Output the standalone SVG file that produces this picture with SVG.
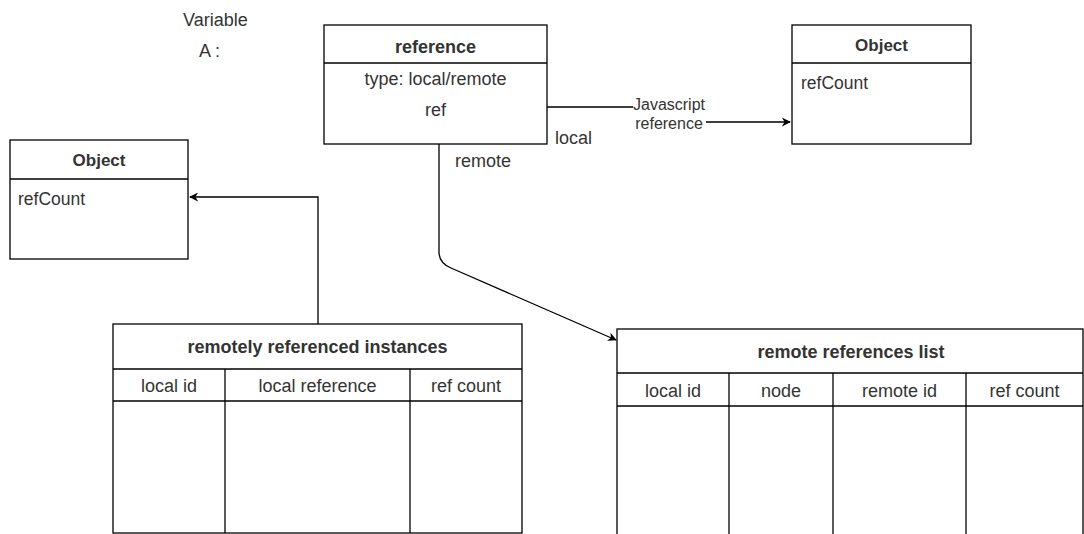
<svg xmlns="http://www.w3.org/2000/svg" width="1084" height="534" viewBox="0 0 1084 534">
<defs>
<style>
.box{fill:#fff;stroke:#000;stroke-width:1.3}
.ln{fill:none;stroke:#000;stroke-width:1.3}
.t{font-family:"Liberation Sans",Arial,sans-serif;font-size:18px;fill:#333}
.b{font-weight:bold}
.c{text-anchor:middle}
.o{font-size:17px}
.rc{font-size:17.5px}
.lbl{font-size:16px}
.e{fill:none;stroke:#000;stroke-width:1.3}
</style>
<marker id="ah" viewBox="0 0 10 10" refX="9" refY="5" markerWidth="9" markerHeight="9" markerUnits="userSpaceOnUse" orient="auto">
<path d="M0,0 L10,5 L0,10 L3,5 Z" fill="#000"/>
</marker>
</defs>
<rect width="1084" height="534" fill="#fff"/>
<g id="variable-label">
<text class="t" x="183" y="26">Variable</text>
<text class="t" x="199" y="57">A :</text>
</g>
<g id="connectors">
<path class="e" d="M547,107 H670 V122 H790" marker-end="url(#ah)"/>
<rect x="633" y="96" width="73" height="36" fill="#fff"/>
<text class="t c lbl" x="669" y="110">Javascript</text>
<text class="t c lbl" x="669" y="129">reference</text>
<path class="e" d="M439,144 V252 Q439,263 451,268 L616,340" marker-end="url(#ah)"/>
<path class="e" d="M318,324 V197 H190" marker-end="url(#ah)"/>
<text class="t" x="555" y="144">local</text>
<text class="t" x="455" y="167">remote</text>
</g>
<g id="reference">
<rect class="box" x="324" y="25" width="223" height="119"/>
<line class="ln" x1="324" y1="63" x2="547" y2="63"/>
<text class="t b c" x="435.5" y="53">reference</text>
<text class="t c" x="435.5" y="85">type: local/remote</text>
<text class="t c" x="435.5" y="116">ref</text>
</g>
<g id="object-right">
<rect class="box" x="792" y="25" width="179" height="119"/>
<line class="ln" x1="792" y1="63" x2="971" y2="63"/>
<text class="t b c o" x="881.5" y="51">Object</text>
<text class="t rc" x="801" y="89">refCount</text>
</g>
<g id="object-left">
<rect class="box" x="10" y="140" width="178" height="119"/>
<line class="ln" x1="10" y1="179" x2="188" y2="179"/>
<text class="t b c o" x="99" y="166">Object</text>
<text class="t rc" x="18" y="205">refCount</text>
</g>
<g id="remotely-referenced-instances">
<rect class="box" x="113" y="324" width="409" height="209"/>
<line class="ln" x1="113" y1="369" x2="522" y2="369"/>
<line class="ln" x1="113" y1="401" x2="522" y2="401"/>
<line class="ln" x1="225" y1="369" x2="225" y2="533"/>
<line class="ln" x1="410" y1="369" x2="410" y2="533"/>
<text class="t b c" x="317.5" y="353">remotely referenced instances</text>
<text class="t c" x="169" y="392">local id</text>
<text class="t c" x="317.5" y="392">local reference</text>
<text class="t c" x="466" y="392">ref count</text>
</g>
<g id="remote-references-list">
<rect class="box" x="617" y="329" width="466" height="220"/>
<line class="ln" x1="617" y1="373" x2="1083" y2="373"/>
<line class="ln" x1="617" y1="406" x2="1083" y2="406"/>
<line class="ln" x1="729" y1="373" x2="729" y2="549"/>
<line class="ln" x1="833" y1="373" x2="833" y2="549"/>
<line class="ln" x1="966" y1="373" x2="966" y2="549"/>
<text class="t b c" x="851" y="358">remote references list</text>
<text class="t c" x="673" y="397">local id</text>
<text class="t c" x="781" y="397">node</text>
<text class="t c" x="899.5" y="397">remote id</text>
<text class="t c" x="1024.5" y="397">ref count</text>
</g>
</svg>
